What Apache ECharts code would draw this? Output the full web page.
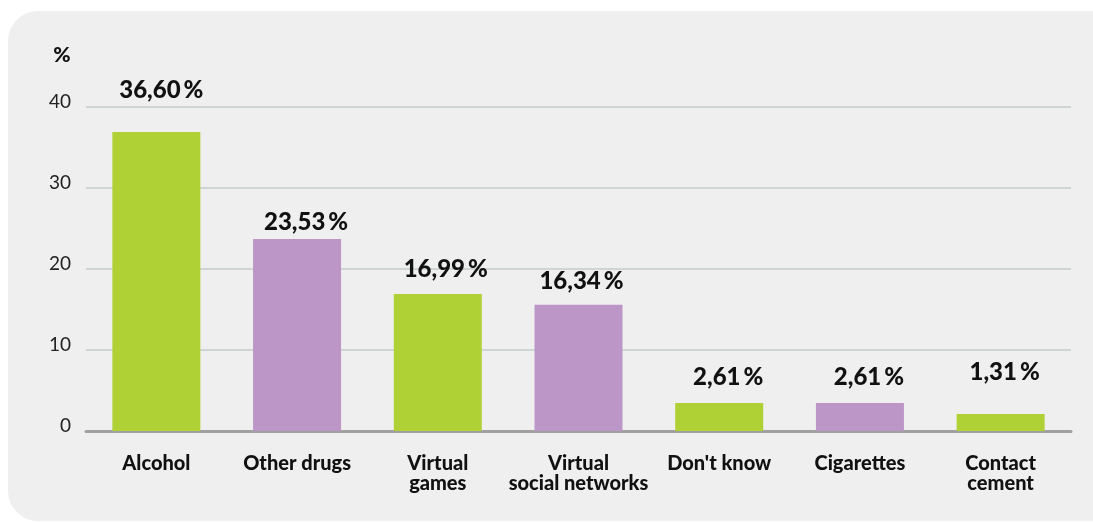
<!DOCTYPE html>
<html>
<head>
<meta charset="utf-8">
<script src="https://cdn.jsdelivr.net/npm/echarts@6/dist/echarts.min.js"></script>
<style>
  html, body { margin: 0; padding: 0; background: #ffffff; }
  #wrap { position: relative; width: 1093px; height: 522px; overflow: hidden; }
  #panel { position: absolute; left: 8px; top: 11px; width: 1115px; height: 510px; background: #efefef; border-radius: 30px; }
  #chart { position: absolute; left: 0; top: 0; width: 1093px; height: 522px; }
</style>
</head>
<body>
<div id="wrap">
  <div id="panel"></div>
  <div id="chart"></div>
</div>
<script>
// Data
const categories = ['Alcohol', 'Other drugs', 'Virtual\ngames', 'Virtual\nsocial networks', "Don't know", 'Cigarettes', 'Contact\ncement'];
const barHeights = [36.9, 23.7, 16.9, 15.6, 3.45, 3.45, 2.1];
const printedValues = ['36,60\u2009%', '23,53\u2009%', '16,99\u2009%', '16,34\u2009%', '2,61\u2009%', '2,61\u2009%', '1,31\u2009%'];
const yTicks = [0, 10, 20, 30, 40];

// Styling / layout (not data)
const GREEN = '#b0d136';
const PURPLE = '#bb96c7';
const labelShift = [[5, -30], [9, -5], [8, -13], [3, -11], [9, -14], [9, -14], [4, -30]];

const chart = echarts.init(document.getElementById('chart'), null, { renderer: 'canvas' });

const seriesData = barHeights.map((v, i) => ({
  value: v,
  itemStyle: { color: i % 2 === 0 ? GREEN : PURPLE },
  label: { offset: labelShift[i] }
}));

chart.setOption({
  backgroundColor: 'transparent',
  animation: false,
  grid: { left: 86, right: 22, top: 107, bottom: 91, containLabel: false },
  xAxis: {
    type: 'category',
    data: categories,
    axisTick: { show: false },
    axisLine: { show: true, lineStyle: { color: '#a0a0a0', width: 3 } },
    axisLabel: {
      interval: 0,
      margin: 23,
      color: '#111111',
      fontFamily: 'Lato',
      fontWeight: 900,
      fontSize: 20,
      lineHeight: 20
    }
  },
  yAxis: {
    type: 'value',
    min: yTicks[0],
    max: yTicks[yTicks.length - 1],
    interval: 10,
    name: '%',
    nameLocation: 'end',
    nameGap: 52,
    nameTextStyle: {
      color: '#111111',
      fontFamily: 'Lato',
      fontWeight: 900,
      fontSize: 21,
      align: 'center',
      verticalAlign: 'middle',
      padding: [0, 48, 0, 0]
    },
    axisLine: { show: false },
    axisTick: { show: false },
    splitLine: { show: true, lineStyle: { color: '#cfd5d5', width: 2 } },
    axisLabel: {
      margin: 15,
      color: '#222222',
      fontFamily: 'Lato',
      fontSize: 19,
      verticalAlign: 'bottom',
      lineHeight: 10,
      formatter: (v) => String(v)
    }
  },
  series: [{
    type: 'bar',
    data: seriesData,
    barWidth: 88,
    label: {
      show: true,
      position: 'top',
      distance: 0,
      color: '#111111',
      fontFamily: 'Lato',
      fontWeight: 900,
      fontSize: 24,
      lineHeight: 24,
      formatter: (p) => printedValues[p.dataIndex]
    }
  }]
});
</script>
</body>
</html>
